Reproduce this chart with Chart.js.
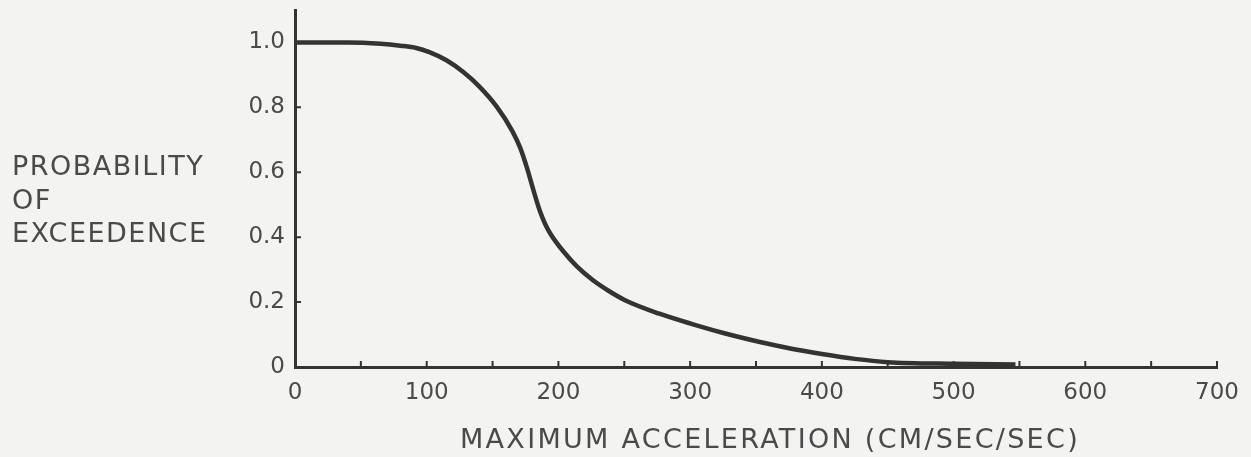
<!DOCTYPE html>
<html>
<head>
    <title>Probability of Exceedence</title>
    <style>
        body {
            margin: 0;
            background-color: #f3f3f1;
        }

        #chart {
            display: block;
        }
    </style>
</head>
<body>
    <canvas id="chart" width="1251" height="457"></canvas>

    <script src="https://cdn.jsdelivr.net/npm/chart.js"></script>
    <script>
        // values
        const accel = [0, 40, 65, 80, 92, 102, 115, 128, 140, 153, 165, 171, 176, 181, 186, 190, 194, 204, 214, 226, 238, 251, 276, 301, 326, 353, 376, 400, 425, 450, 500, 547];
        const prob = [1.0, 1.0, 0.996, 0.99, 0.983, 0.97, 0.945, 0.908, 0.864, 0.803, 0.727, 0.675, 0.615, 0.545, 0.48, 0.44, 0.41, 0.355, 0.31, 0.268, 0.235, 0.205, 0.165, 0.133, 0.104, 0.077, 0.057, 0.04, 0.025, 0.015, 0.01, 0.008];

        const xTickValues = [0, 100, 200, 300, 400, 500, 600, 700];
        const xMarkValues = [50, 100, 150, 200, 250, 300, 350, 400, 450, 500, 550, 600, 650, 700];
        const yTickValues = [0, 0.2, 0.4, 0.6, 0.8, 1.0];
        const yMarkValues = [0.2, 0.4, 0.6, 0.8];

        const yTitleLines = ['PROBABILITY', 'OF', 'EXCEEDENCE'];
        const xTitle = 'MAXIMUM ACCELERATION (CM/SEC/SEC)';

        const inkColor = '#333';
        const textColor = '#4a4a4a';

        // small inward tick marks and the two axis titles
        const decorations = {
            id: 'decorations',
            afterDraw(chart) {
                const ctx = chart.ctx;
                const xs = chart.scales.x;
                const ys = chart.scales.y;
                const area = chart.chartArea;

                ctx.save();
                ctx.strokeStyle = inkColor;
                ctx.lineWidth = 2;
                ctx.beginPath();
                xMarkValues.forEach(v => {
                    const px = xs.getPixelForValue(v);
                    ctx.moveTo(px, area.bottom);
                    ctx.lineTo(px, area.bottom - 6);
                });
                yMarkValues.forEach(v => {
                    const py = ys.getPixelForValue(v);
                    ctx.moveTo(area.left, py);
                    ctx.lineTo(area.left + 6, py);
                });
                ctx.stroke();

                ctx.fillStyle = textColor;
                ctx.font = '27px "DejaVu Sans"';
                ctx.textAlign = 'left';
                ctx.textBaseline = 'alphabetic';
                ctx.letterSpacing = '1.5px';
                yTitleLines.forEach((line, i) => {
                    ctx.fillText(line, 12, 175 + i * 33.5);
                });

                ctx.letterSpacing = '2.3px';
                ctx.fillText(xTitle, 460, 448);
                ctx.restore();
            }
        };

        const ctx = document.getElementById('chart').getContext('2d');
        const chart = new Chart(ctx, {
            type: 'line',
            data: {
                datasets: [{
                    data: accel.map((a, i) => ({ x: a, y: prob[i] })),
                    borderColor: inkColor,
                    borderWidth: 4.5,
                    pointRadius: 0,
                    fill: false,
                    cubicInterpolationMode: 'monotone'
                }]
            },
            options: {
                responsive: false,
                devicePixelRatio: 1,
                animation: false,
                layout: {
                    padding: { left: 0, top: 10, right: 34, bottom: 0 }
                },
                plugins: {
                    legend: { display: false },
                    tooltip: { enabled: false }
                },
                scales: {
                    x: {
                        type: 'linear',
                        min: 0,
                        max: 700,
                        afterBuildTicks: scale => {
                            scale.ticks = xTickValues.map(v => ({ value: v }));
                        },
                        afterFit: scale => { scale.height = 90; },
                        grid: { display: false, drawTicks: false },
                        border: { display: true, color: inkColor, width: 3 },
                        ticks: {
                            padding: 12,
                            maxRotation: 0,
                            color: textColor,
                            font: { family: 'DejaVu Sans', size: 23 },
                            callback: v => String(v)
                        }
                    },
                    y: {
                        type: 'linear',
                        min: 0,
                        max: 1.1,
                        afterBuildTicks: scale => {
                            scale.ticks = yTickValues.map(v => ({ value: v }));
                        },
                        afterFit: scale => {
                            scale.width = 295;
                            scale.paddingTop = 0;
                            scale.paddingBottom = 0;
                        },
                        grid: { display: false, drawTicks: false },
                        border: { display: true, color: inkColor, width: 3 },
                        ticks: {
                            padding: 10,
                            color: textColor,
                            font: { family: 'DejaVu Sans', size: 23 },
                            callback: v => v === 0 ? '0' : v.toFixed(1)
                        }
                    }
                }
            },
            plugins: [decorations]
        });
    </script>
</body>
</html>
